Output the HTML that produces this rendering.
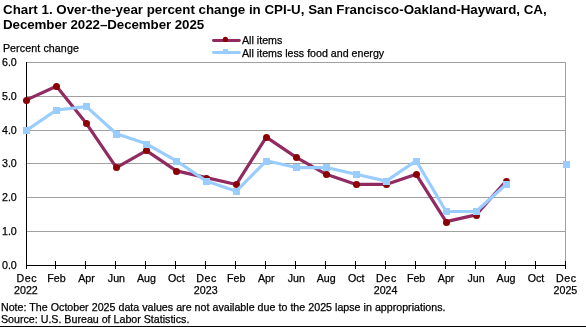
<!DOCTYPE html><html><head><meta charset="utf-8"><style>html,body{margin:0;padding:0;background:#fff;width:586px;height:327px;overflow:hidden}svg{display:block;will-change:transform}text{font-family:"Liberation Sans",sans-serif;fill:#000;stroke:#000;stroke-width:0.25px}</style></head><body>
<svg width="586" height="327" viewBox="0 0 586 327">
<text x="3" y="14" style="font-weight:bold;font-size:13.333px;stroke:none">Chart 1. Over-the-year percent change in CPI-U, San Francisco-Oakland-Hayward, CA,</text>
<text x="3" y="28.5" style="font-weight:bold;font-size:13.333px;stroke:none;letter-spacing:-0.07px">December 2022–December 2025</text>
<text x="2.9" y="52" style="font-size:10.667px;letter-spacing:0.1px">Percent change</text>
<line x1="213.4" y1="40.5" x2="239.4" y2="40.5" stroke="#912a60" stroke-width="2.8" stroke-linecap="round"/>
<circle cx="225.4" cy="39.4" r="2.6" fill="#8b0000"/>
<line x1="213.4" y1="52.5" x2="239.4" y2="52.5" stroke="#99ccff" stroke-width="2.8" stroke-linecap="round"/>
<rect x="223" y="49" width="5" height="4" fill="#99ccff"/>
<text x="242" y="44" style="font-size:10.667px">All items</text>
<text x="242" y="57" style="font-size:10.667px">All items less food and energy</text>
<rect x="26" y="231" width="540" height="1" fill="#a0a0a0"/>
<rect x="26" y="197" width="540" height="1" fill="#a0a0a0"/>
<rect x="26" y="163" width="540" height="1" fill="#a0a0a0"/>
<rect x="26" y="130" width="540" height="1" fill="#a0a0a0"/>
<rect x="26" y="96" width="540" height="1" fill="#a0a0a0"/>
<rect x="26" y="62" width="540" height="1" fill="#a0a0a0"/>
<line x1="565.5" y1="62" x2="565.5" y2="265" stroke="#a0a0a0" stroke-width="1"/>
<line x1="26.5" y1="62" x2="26.5" y2="266" stroke="#000" stroke-width="1"/>
<line x1="26" y1="265.5" x2="566" y2="265.5" stroke="#000" stroke-width="1"/>
<line x1="26.5" y1="261" x2="26.5" y2="269" stroke="#000" stroke-width="1"/>
<line x1="55.5" y1="261" x2="55.5" y2="269" stroke="#000" stroke-width="1"/>
<line x1="85.5" y1="261" x2="85.5" y2="269" stroke="#000" stroke-width="1"/>
<line x1="115.5" y1="261" x2="115.5" y2="269" stroke="#000" stroke-width="1"/>
<line x1="145.5" y1="261" x2="145.5" y2="269" stroke="#000" stroke-width="1"/>
<line x1="175.5" y1="261" x2="175.5" y2="269" stroke="#000" stroke-width="1"/>
<line x1="205.5" y1="261" x2="205.5" y2="269" stroke="#000" stroke-width="1"/>
<line x1="235.5" y1="261" x2="235.5" y2="269" stroke="#000" stroke-width="1"/>
<line x1="265.5" y1="261" x2="265.5" y2="269" stroke="#000" stroke-width="1"/>
<line x1="295.5" y1="261" x2="295.5" y2="269" stroke="#000" stroke-width="1"/>
<line x1="325.5" y1="261" x2="325.5" y2="269" stroke="#000" stroke-width="1"/>
<line x1="355.5" y1="261" x2="355.5" y2="269" stroke="#000" stroke-width="1"/>
<line x1="385.5" y1="261" x2="385.5" y2="269" stroke="#000" stroke-width="1"/>
<line x1="415.5" y1="261" x2="415.5" y2="269" stroke="#000" stroke-width="1"/>
<line x1="445.5" y1="261" x2="445.5" y2="269" stroke="#000" stroke-width="1"/>
<line x1="475.5" y1="261" x2="475.5" y2="269" stroke="#000" stroke-width="1"/>
<line x1="505.5" y1="261" x2="505.5" y2="269" stroke="#000" stroke-width="1"/>
<line x1="535.5" y1="261" x2="535.5" y2="269" stroke="#000" stroke-width="1"/>
<line x1="565.5" y1="261" x2="565.5" y2="269" stroke="#000" stroke-width="1"/>
<text x="16.8" y="269" text-anchor="end" style="font-size:10.667px">0.0</text>
<text x="16.8" y="235" text-anchor="end" style="font-size:10.667px">1.0</text>
<text x="16.8" y="201" text-anchor="end" style="font-size:10.667px">2.0</text>
<text x="16.8" y="167" text-anchor="end" style="font-size:10.667px">3.0</text>
<text x="16.8" y="134" text-anchor="end" style="font-size:10.667px">4.0</text>
<text x="16.8" y="100" text-anchor="end" style="font-size:10.667px">5.0</text>
<text x="16.8" y="66" text-anchor="end" style="font-size:10.667px">6.0</text>
<text x="26.80" y="282" text-anchor="middle" style="font-size:10.667px;letter-spacing:0.6px">Dec</text>
<text x="25.90" y="294" text-anchor="middle" style="font-size:10.667px">2022</text>
<text x="56.47" y="282" text-anchor="middle" style="font-size:10.667px">Feb</text>
<text x="86.44" y="282" text-anchor="middle" style="font-size:10.667px">Apr</text>
<text x="116.42" y="282" text-anchor="middle" style="font-size:10.667px">Jun</text>
<text x="146.39" y="282" text-anchor="middle" style="font-size:10.667px">Aug</text>
<text x="176.36" y="282" text-anchor="middle" style="font-size:10.667px">Oct</text>
<text x="206.63" y="282" text-anchor="middle" style="font-size:10.667px;letter-spacing:0.6px">Dec</text>
<text x="205.73" y="294" text-anchor="middle" style="font-size:10.667px">2023</text>
<text x="236.31" y="282" text-anchor="middle" style="font-size:10.667px">Feb</text>
<text x="266.28" y="282" text-anchor="middle" style="font-size:10.667px">Apr</text>
<text x="296.25" y="282" text-anchor="middle" style="font-size:10.667px">Jun</text>
<text x="326.22" y="282" text-anchor="middle" style="font-size:10.667px">Aug</text>
<text x="356.19" y="282" text-anchor="middle" style="font-size:10.667px">Oct</text>
<text x="386.47" y="282" text-anchor="middle" style="font-size:10.667px;letter-spacing:0.6px">Dec</text>
<text x="385.57" y="294" text-anchor="middle" style="font-size:10.667px">2024</text>
<text x="416.14" y="282" text-anchor="middle" style="font-size:10.667px">Feb</text>
<text x="446.11" y="282" text-anchor="middle" style="font-size:10.667px">Apr</text>
<text x="476.08" y="282" text-anchor="middle" style="font-size:10.667px">Jun</text>
<text x="506.06" y="282" text-anchor="middle" style="font-size:10.667px">Aug</text>
<text x="536.03" y="282" text-anchor="middle" style="font-size:10.667px">Oct</text>
<text x="566.30" y="282" text-anchor="middle" style="font-size:10.667px;letter-spacing:0.6px">Dec</text>
<text x="565.40" y="294" text-anchor="middle" style="font-size:10.667px">2025</text>
<polyline points="26.50,99.87 56.47,86.33 86.44,123.55 116.42,167.53 146.39,150.62 176.36,170.92 206.33,177.68 236.31,184.45 266.28,137.08 296.25,157.38 326.22,174.30 356.19,184.45 386.17,184.45 416.14,174.30 446.11,221.67 476.08,214.90 506.06,181.07" fill="none" stroke="#912a60" stroke-width="3.2" stroke-linejoin="round"/>
<circle cx="26.5" cy="100.5" r="3.5" fill="#8b0000"/>
<circle cx="56.5" cy="86.5" r="3.5" fill="#8b0000"/>
<circle cx="86.5" cy="123.5" r="3.5" fill="#8b0000"/>
<circle cx="116.5" cy="167.5" r="3.5" fill="#8b0000"/>
<circle cx="146.5" cy="150.5" r="3.5" fill="#8b0000"/>
<circle cx="176.5" cy="171.5" r="3.5" fill="#8b0000"/>
<circle cx="206.5" cy="178.5" r="3.5" fill="#8b0000"/>
<circle cx="236.5" cy="184.5" r="3.5" fill="#8b0000"/>
<circle cx="266.5" cy="137.5" r="3.5" fill="#8b0000"/>
<circle cx="296.5" cy="157.5" r="3.5" fill="#8b0000"/>
<circle cx="326.5" cy="174.5" r="3.5" fill="#8b0000"/>
<circle cx="356.5" cy="184.5" r="3.5" fill="#8b0000"/>
<circle cx="386.5" cy="184.5" r="3.5" fill="#8b0000"/>
<circle cx="416.5" cy="174.5" r="3.5" fill="#8b0000"/>
<circle cx="446.5" cy="222.5" r="3.5" fill="#8b0000"/>
<circle cx="476.5" cy="215.5" r="3.5" fill="#8b0000"/>
<circle cx="506.5" cy="181.5" r="3.5" fill="#8b0000"/>
<polyline points="26.50,130.32 56.47,110.02 86.44,106.63 116.42,133.70 146.39,143.85 176.36,160.77 206.33,181.07 236.31,191.22 266.28,160.77 296.25,167.53 326.22,167.53 356.19,174.30 386.17,181.07 416.14,160.77 446.11,211.52 476.08,211.52 506.06,184.45" fill="none" stroke="#99ccff" stroke-width="3.2" stroke-linejoin="round"/>
<rect x="23" y="127" width="7" height="7" fill="#99ccff"/>
<rect x="53" y="107" width="7" height="7" fill="#99ccff"/>
<rect x="83" y="103" width="7" height="7" fill="#99ccff"/>
<rect x="113" y="131" width="7" height="7" fill="#99ccff"/>
<rect x="143" y="141" width="7" height="7" fill="#99ccff"/>
<rect x="173" y="158" width="7" height="7" fill="#99ccff"/>
<rect x="203" y="178" width="7" height="7" fill="#99ccff"/>
<rect x="233" y="188" width="7" height="7" fill="#99ccff"/>
<rect x="263" y="158" width="7" height="7" fill="#99ccff"/>
<rect x="293" y="164" width="7" height="7" fill="#99ccff"/>
<rect x="323" y="164" width="7" height="7" fill="#99ccff"/>
<rect x="353" y="171" width="7" height="7" fill="#99ccff"/>
<rect x="383" y="178" width="7" height="7" fill="#99ccff"/>
<rect x="413" y="158" width="7" height="7" fill="#99ccff"/>
<rect x="443" y="208" width="7" height="7" fill="#99ccff"/>
<rect x="473" y="208" width="7" height="7" fill="#99ccff"/>
<rect x="503" y="181" width="7" height="7" fill="#99ccff"/>
<rect x="563" y="161" width="7" height="7" fill="#99ccff"/>
<text x="1" y="311" style="font-size:10.667px;word-spacing:0.1px">Note: The October 2025 data values are not available due to the 2025 lapse in appropriations.</text>
<text x="1" y="323" style="font-size:10.667px">Source: U.S. Bureau of Labor Statistics.</text>
<rect x="0" y="326" width="586" height="1" fill="#000"/>
</svg></body></html>
